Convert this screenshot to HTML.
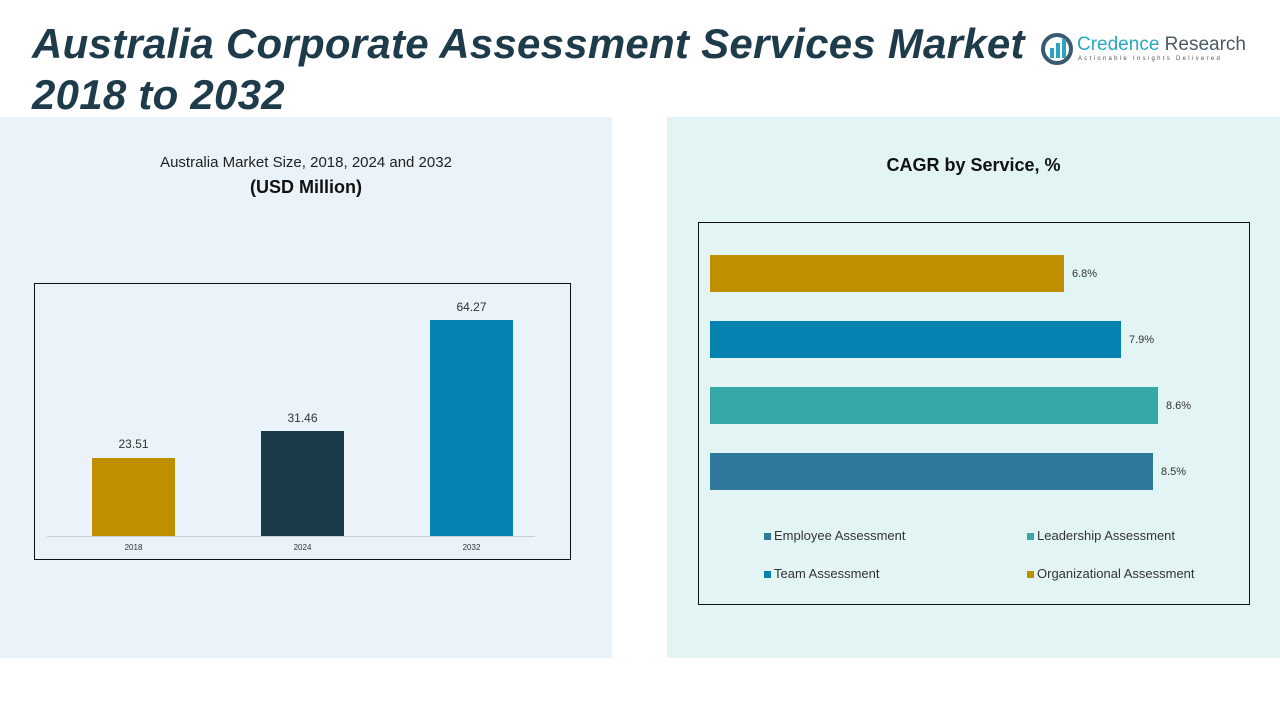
<!DOCTYPE html>
<html><head><style>
body{margin:0;width:1280px;height:720px;background:#fff;position:relative;overflow:hidden;font-family:"Liberation Sans",sans-serif}
.a{position:absolute}
.t{font-weight:bold;font-style:italic;color:#1d3b4a;font-size:42px;line-height:46px;letter-spacing:0.25px;white-space:nowrap}
</style></head><body>
<div class="a" style="left:0;top:117px;width:612px;height:541px;background:#eaf3f9"></div>
<div class="a" style="left:667px;top:117px;width:613px;height:541px;background:#e3f4f4"></div>
<div class="a t" style="left:32px;top:21px">Australia Corporate Assessment Services Market</div>
<div class="a t" style="left:32px;top:72px">2018 to 2032</div>
<svg class="a" style="left:1040px;top:32px" width="36" height="36"><circle cx="17" cy="17" r="14" fill="none" stroke="#3a5a70" stroke-width="4"/><rect x="10" y="16" width="4" height="10" fill="#2aa6c0"/><rect x="16" y="11" width="4" height="15" fill="#2aa6c0"/><rect x="22" y="7" width="4" height="19" fill="#2aa6c0"/></svg>
<div class="a" style="left:1077px;top:34px;font-size:19px;color:#2aa6c0">Credence <span style="color:#4a5a66">Research</span></div>
<div class="a" style="left:1078px;top:56px;font-size:6px;letter-spacing:2.3px;color:#555">Actionable Insights Delivered</div>
<div class="a" style="left:0;width:612px;top:154px;text-align:center;font-size:15px;color:#222">Australia Market Size, 2018, 2024 and 2032</div>
<div class="a" style="left:0;width:612px;top:177px;text-align:center;font-size:18px;font-weight:bold;color:#111">(USD Million)</div>
<div class="a" style="left:34px;top:283px;width:535px;height:275px;border:1px solid #111"></div>
<div class="a" style="left:47px;top:536px;width:488px;height:1px;background:#ccd"></div>
<div class="a" style="left:92px;top:458px;width:83px;height:78px;background:#bf8f00"></div>
<div class="a" style="left:261px;top:431px;width:83px;height:105px;background:#193b4a"></div>
<div class="a" style="left:430px;top:320px;width:83px;height:216px;background:#0582b0"></div>
<div class="a" style="left:92px;width:83px;top:437px;text-align:center;font-size:12px;color:#333">23.51</div>
<div class="a" style="left:261px;width:83px;top:411px;text-align:center;font-size:12px;color:#333">31.46</div>
<div class="a" style="left:430px;width:83px;top:300px;text-align:center;font-size:12px;color:#333">64.27</div>
<div class="a" style="left:92px;width:83px;top:543px;text-align:center;font-size:8px;color:#333">2018</div>
<div class="a" style="left:261px;width:83px;top:543px;text-align:center;font-size:8px;color:#333">2024</div>
<div class="a" style="left:430px;width:83px;top:543px;text-align:center;font-size:8px;color:#333">2032</div>
<div class="a" style="left:667px;width:613px;top:155px;text-align:center;font-size:18px;font-weight:bold;color:#111">CAGR by Service, %</div>
<div class="a" style="left:698px;top:222px;width:550px;height:381px;border:1px solid #111"></div>
<div class="a" style="left:710px;top:255px;width:354px;height:37px;background:#bf8f00"></div>
<div class="a" style="left:710px;top:321px;width:411px;height:37px;background:#0582b0"></div>
<div class="a" style="left:710px;top:387px;width:448px;height:37px;background:#35a7a6"></div>
<div class="a" style="left:710px;top:453px;width:443px;height:37px;background:#2f7a9c"></div>
<div class="a" style="left:1072px;top:268px;font-size:11px;color:#333">6.8%</div>
<div class="a" style="left:1129px;top:334px;font-size:11px;color:#333">7.9%</div>
<div class="a" style="left:1166px;top:400px;font-size:11px;color:#333">8.6%</div>
<div class="a" style="left:1161px;top:466px;font-size:11px;color:#333">8.5%</div>
<div class="a" style="left:764px;top:528px;font-size:13px;color:#333"><span style="display:inline-block;width:7px;height:7px;background:#2f7a9c;margin-right:3px"></span>Employee Assessment</div>
<div class="a" style="left:1027px;top:528px;font-size:13px;color:#333"><span style="display:inline-block;width:7px;height:7px;background:#35a7a6;margin-right:3px"></span>Leadership Assessment</div>
<div class="a" style="left:764px;top:566px;font-size:13px;color:#333"><span style="display:inline-block;width:7px;height:7px;background:#0582b0;margin-right:3px"></span>Team Assessment</div>
<div class="a" style="left:1027px;top:566px;font-size:13px;color:#333"><span style="display:inline-block;width:7px;height:7px;background:#bf8f00;margin-right:3px"></span>Organizational Assessment</div>
</body></html>
